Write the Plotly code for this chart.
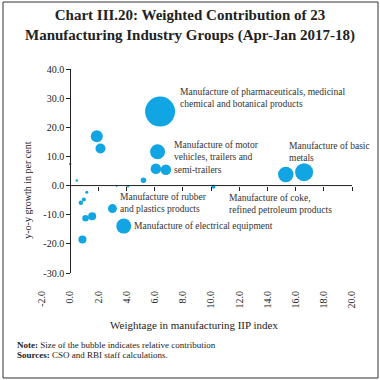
import plotly.graph_objects as go

# Data
weightage = [6.38, 1.89, 2.15, 6.2, 6.08, 6.79, 5.2, 0.0, 0.47, 3.3, 4.1,
             15.3, 16.6, 10.16, 1.18, 0.97, 0.76, 1.09, 1.56, 3.0, 3.8, 0.87]
growth = [25.4, 16.9, 12.7, 11.6, 5.8, 5.4, 1.8, 7.4, 1.7, -0.2, -0.2,
          3.8, 4.6, -0.4, -2.3, -4.8, -5.9, -11.2, -10.5, -7.9, -13.9, -18.5]
contribution = [30, 12, 10, 15, 10.5, 10.5, 5.5, 2.5, 2.5, 1.5, 2.5,
                15.5, 18, 4, 3, 4, 4.5, 6.5, 8, 9, 15, 8]

labels = [
    ("Manufacture of pharmaceuticals, medicinal<br>chemical and botanical products", 7.64, 30.2),
    ("Manufacture of motor<br>vehicles, trailers and<br>semi-trailers", 7.22, 9.7),
    ("Manufacture of basic<br>metals", 15.42, 11.5),
    ("Manufacture of rubber<br>and plastics products", 3.39, -6.1),
    ("Manufacture of electrical equipment", 4.42, -14.0),
    ("Manufacture of coke,<br>refined petroleum products", 11.16, -6.4),
]

x_ticks = [-2.0 + 2 * i for i in range(12)]
y_ticks = [-30.0 + 10 * i for i in range(8)]
x_range = [-2, 20]
y_range = [-30, 40]

FONT = "Liberation Serif"
BLUE = "#12A5E3"

fig = go.Figure()
fig.add_trace(go.Scatter(
    x=weightage, y=growth, mode="markers",
    marker=dict(size=contribution, sizemode="diameter", color=BLUE,
                line=dict(width=0), opacity=1),
    hoverinfo="skip", showlegend=False,
))
fig.add_trace(go.Scatter(x=[None], y=[None], xaxis="x2", showlegend=False))

fig.update_layout(
    width=380, height=380,
    margin=dict(l=42, r=28, t=69, b=107, autoexpand=False),
    paper_bgcolor="white", plot_bgcolor="white",
    font=dict(family=FONT, size=10, color="#222"),
    xaxis=dict(range=x_range, tickvals=x_ticks, ticktext=[f"{v:.1f}" for v in x_ticks],
               tickangle=-90, showline=False, showgrid=False, zeroline=False,
               automargin=False,
               ticks="outside", ticklen=13, tickcolor="rgba(0,0,0,0)",
               tickfont=dict(family=FONT, size=10, color="#222")),
    xaxis2=dict(range=x_range, overlaying="x", anchor="free", position=30 / 70,
                side="bottom", tickvals=[v for v in x_ticks if v > 0],
                automargin=False,
                showticklabels=False, ticks="outside", ticklen=4, tickcolor="#222",
                showline=False, showgrid=False, zeroline=False),
    yaxis=dict(range=y_range, tickvals=y_ticks, ticktext=[f"{v:.1f}" for v in y_ticks],
               anchor="free", position=2 / 22, showline=True, linecolor="#222",
               automargin=False,
               linewidth=1, ticks="outside", ticklen=4, tickcolor="#222",
               showgrid=False, zeroline=False,
               tickfont=dict(family=FONT, size=10, color="#222")),
)

fig.add_shape(type="line", xref="x", yref="y", x0=0, x1=x_range[1], y0=0, y1=0,
              line=dict(color="#222", width=1))

for text, lx, ly in labels:
    fig.add_annotation(text=text, x=lx, y=ly, xref="x", yref="y", xanchor="left",
                       yanchor="middle", align="left", showarrow=False,
                       font=dict(family=FONT, size=9.5, color="#333"))

fig.add_annotation(text="<b>Chart III.20: Weighted Contribution of 23<br>Manufacturing Industry Groups (Apr-Jan 2017-18)</b>",
                   x=0.477, y=1.213, xref="paper", yref="paper", showarrow=False,
                   xanchor="center", yanchor="middle", align="center",
                   font=dict(family=FONT, size=15, color="#222"))
fig.add_annotation(text="y-o-y growth in per cent", x=-0.07, y=0.407, xref="paper",
                   yref="paper", textangle=-90, showarrow=False,
                   font=dict(family=FONT, size=10, color="#222"))
fig.add_annotation(text="Weightage in manufacturing IIP index", x=0.49, y=-0.294,
                   xref="paper", yref="paper", showarrow=False,
                   font=dict(family=FONT, size=11, color="#222"))
fig.add_annotation(text="<b>Note:</b> Size of the bubble indicates relative contribution",
                   x=-0.087, y=-0.387, xref="paper", yref="paper", showarrow=False,
                   xanchor="left", font=dict(family=FONT, size=9, color="#222"))
fig.add_annotation(text="<b>Sources:</b> CSO and RBI staff calculations.",
                   x=-0.087, y=-0.436, xref="paper", yref="paper", showarrow=False,
                   xanchor="left", font=dict(family=FONT, size=9, color="#222"))

fig.add_shape(type="rect", xref="paper", yref="paper", x0=-0.1258, x1=1.0839,
              y0=-0.5147, y1=1.3284, line=dict(color="#333", width=1))

fig.write_html("out.html", config={"displayModeBar": False},
               post_script="document.body.style.margin='0';")
